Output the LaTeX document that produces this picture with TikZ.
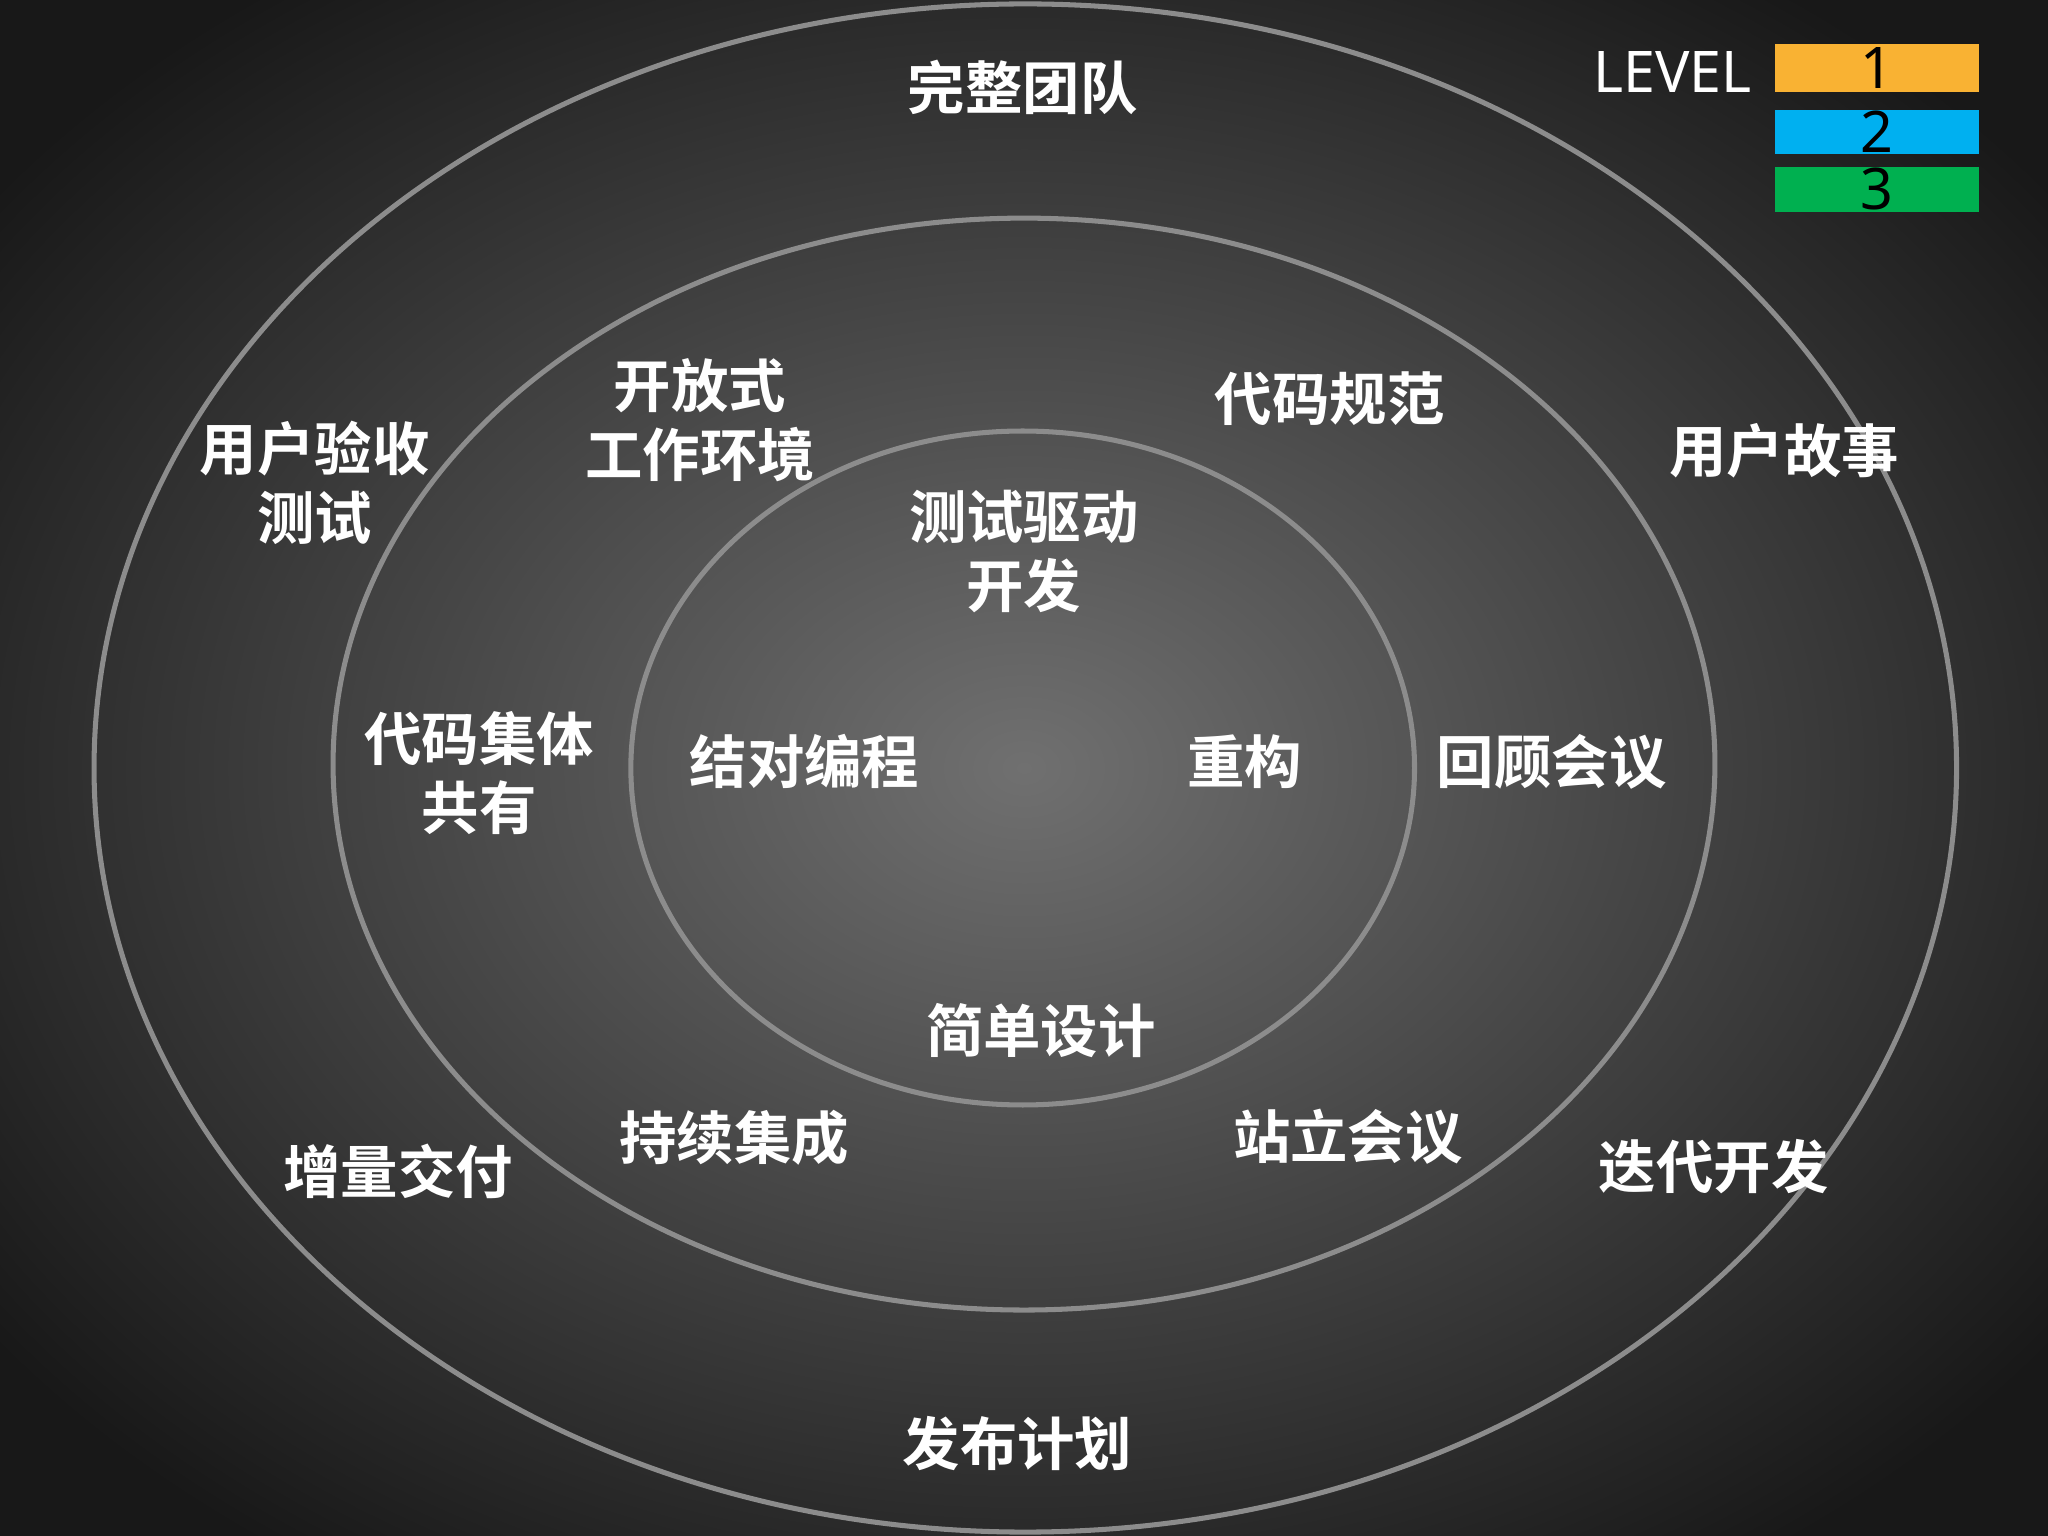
\documentclass[tikz,border=0pt]{standalone}
\usepackage{fontspec}
\setmainfont{Noto Sans}
\newfontfamily\cjk{Noto Sans CJK SC Bold}
\definecolor{ring}{HTML}{8C8C8C}
\definecolor{lv1}{HTML}{F9B233}
\definecolor{lv2}{HTML}{00B0F0}
\definecolor{lv3}{HTML}{00B050}
\begin{document}
\begin{tikzpicture}[x=0.01cm,y=-0.01cm,
  lbl/.style={text=white,font=\cjk\fontsize{12.5}{15}\selectfont,align=center,inner sep=0pt},
  ringst/.style={draw=ring,line width=1.1pt},
  lvbox/.style={minimum width=1.56cm,inner sep=0pt,font=\fontsize{12.5}{14}\selectfont,text=black}]
\useasboundingbox (0,0) rectangle (1568,1176);
\shade[inner color=gray!72!black!55!white, outer color=black!92] (-300,-250) rectangle (1868,1426);
\shade[inner color={rgb,255:red,112;green,112;blue,112}, outer color={rgb,255:red,24;green,24;blue,24}] (-200,-150) rectangle (1768,1326);
\draw[ringst] (785,588) ellipse [x radius=713, y radius=585];
\draw[ringst] (784,585) ellipse [x radius=529, y radius=418];
\draw[ringst] (783,588) ellipse [x radius=300, y radius=258];
\node[lbl] (a1) at (783,67) {完整团队};
\node[lbl] (a2) at (241,370) {用户验收\\测试};
\node[lbl] (a3) at (536,322) {开放式\\工作环境};
\node[lbl] (a4) at (1018,305) {代码规范};
\node[lbl] (a5) at (1366,345) {用户故事};
\node[lbl] (a6) at (784,422) {测试驱动\\开发};
\node[lbl] (a7) at (367,592) {代码集体\\共有};
\node[lbl] (a8) at (616,583) {结对编程};
\node[lbl] (a9) at (953,583) {重构};
\node[lbl] (a10) at (1188,583) {回顾会议};
\node[lbl] (a11) at (797,789) {简单设计};
\node[lbl] (a12) at (562,871) {持续集成};
\node[lbl] (a13) at (1032,870) {站立会议};
\node[lbl] (a14) at (305,897) {增量交付};
\node[lbl] (a15) at (1312,893) {迭代开发};
\node[lbl] (a16) at (779,1105) {发布计划};
\node[text=white,font=\fontsize{12.5}{14}\selectfont,anchor=east,inner sep=0pt] (lev) at (1342,55) {LEVEL};
\node[lvbox,fill=lv1,minimum height=0.37cm] (l1) at (1437,52) {1};
\node[lvbox,fill=lv2,minimum height=0.34cm] (l2) at (1437,101) {2};
\node[lvbox,fill=lv3,minimum height=0.34cm] (l3) at (1437,145) {3};
\end{tikzpicture}
\end{document}
